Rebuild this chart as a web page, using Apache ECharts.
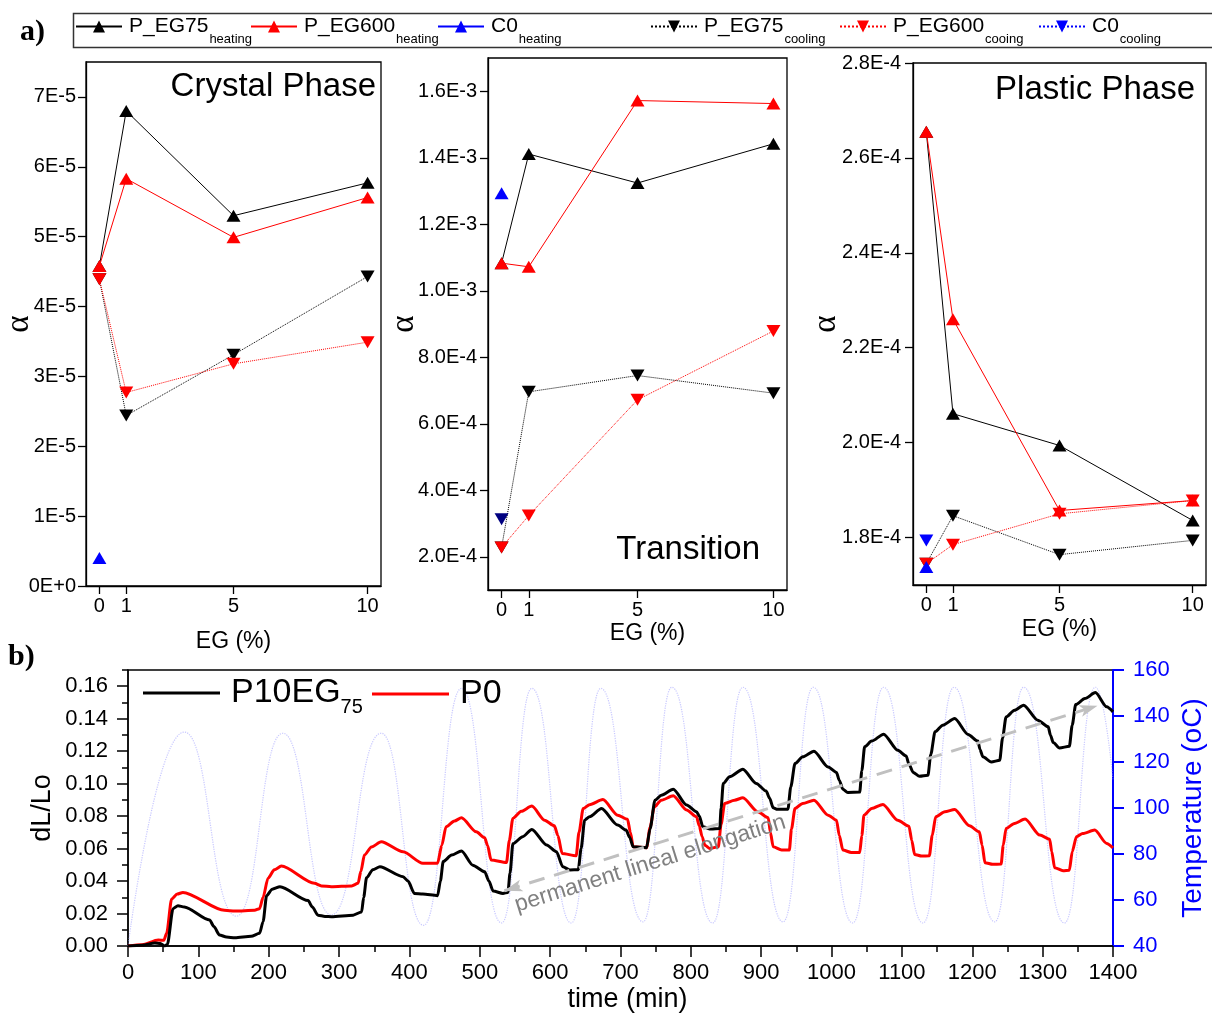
<!DOCTYPE html>
<html>
<head>
<meta charset="utf-8">
<script src="https://cdn.jsdelivr.net/npm/echarts@6/dist/echarts.min.js"></script>
<style>
  html, body { margin: 0; padding: 0; background: #fff; }
  #chart { width: 1212px; height: 1013px; }
</style>
</head>
<body>
<div id="chart"></div>
<script>
// ---------- a) thermal expansion coefficient vs. EG content ----------
const egLevels = [0, 1, 5, 10];

// Crystal phase
const crystalEG75Heat  = [4.58e-5, 6.80e-5, 5.30e-5, 5.77e-5];
const crystalEG600Heat = [4.58e-5, 5.83e-5, 4.99e-5, 5.56e-5];
const crystalC0Heat    = [0.40e-5];
const crystalEG75Cool  = [4.39e-5, 2.44e-5, 3.31e-5, 4.43e-5];
const crystalEG600Cool = [4.39e-5, 2.77e-5, 3.18e-5, 3.49e-5];
const crystalC0Cool    = [];

// Transition
const transEG75Heat  = [1.083e-3, 1.411e-3, 1.324e-3, 1.442e-3];
const transEG600Heat = [1.083e-3, 1.072e-3, 1.572e-3, 1.563e-3];
const transC0Heat    = [1.293e-3];
const transEG75Cool  = [2.28e-4, 6.96e-4, 7.45e-4, 6.92e-4];
const transEG600Cool = [2.28e-4, 3.24e-4, 6.72e-4, 8.79e-4];
const transC0Cool    = [3.13e-4];

// Plastic phase
const plasticEG75Heat  = [2.655e-4, 2.061e-4, 1.994e-4, 1.836e-4];
const plasticEG600Heat = [2.655e-4, 2.260e-4, 1.857e-4, 1.878e-4];
const plasticC0Heat    = [1.738e-4];
const plasticEG75Cool  = [1.745e-4, 1.846e-4, 1.764e-4, 1.794e-4];
const plasticEG600Cool = [1.745e-4, 1.785e-4, 1.850e-4, 1.878e-4];
const plasticC0Cool    = [1.794e-4];

// tick values and their printed labels
const crystalTicks = [0, 1e-5, 2e-5, 3e-5, 4e-5, 5e-5, 6e-5, 7e-5];
const crystalTickLabels = ['0E+0', '1E-5', '2E-5', '3E-5', '4E-5', '5E-5', '6E-5', '7E-5'];
const transTicks = [2e-4, 4e-4, 6e-4, 8e-4, 1.0e-3, 1.2e-3, 1.4e-3, 1.6e-3];
const transTickLabels = ['2.0E-4', '4.0E-4', '6.0E-4', '8.0E-4', '1.0E-3', '1.2E-3', '1.4E-3', '1.6E-3'];
const plasticTicks = [1.8e-4, 2.0e-4, 2.2e-4, 2.4e-4, 2.6e-4, 2.8e-4];
const plasticTickLabels = ['1.8E-4', '2.0E-4', '2.2E-4', '2.4E-4', '2.6E-4', '2.8E-4'];
const egTicks = [0, 1, 5, 10];

const seriesNames = ['P_EG75|heating', 'P_EG600|heating', 'C0|heating',
                     'P_EG75|cooling', 'P_EG600|cooing', 'C0|cooling'];

// ---------- b) dilatometry under thermal cycling ----------
// [time (min), dL/Lo]
const p10eg75Curve = [
  [0,0],[20,0.0005],[38,0.0018],[46,0.0015],[52,0.0],[56,0.001],[64,0.023],[71,0.0248],[80,0.024],
  [116,0.016],[122,0.012],[130,0.0068],[140,0.0055],[152,0.0051],[175,0.006],[187,0.0078],[192,0.015],
  [197,0.031],[205,0.035],[216,0.0365],[256,0.028],[262,0.024],[270,0.019],[280,0.0182],[289,0.018],
  [320,0.019],[332,0.021],[335,0.030],[339,0.042],[348,0.047],[358,0.0488],[391,0.0427],[398,0.040],
  [407,0.0324],[419,0.032],[440,0.031],[444,0.040],[448,0.052],[460,0.056],[474,0.0585],[490,0.0498],
  [507,0.0457],[513,0.040],[519,0.0338],[533,0.0324],[540,0.033],[543,0.045],[547,0.063],[561,0.0673],
  [574,0.0718],[595,0.0622],[609,0.058],[618,0.0488],[628,0.0468],[640,0.047],[644,0.060],[649,0.0775],
  [656,0.0796],[673,0.0847],[696,0.0745],[708,0.0714],[713,0.067],[718,0.0611],[737,0.0605],[742,0.072],
  [749,0.0898],[758,0.0929],[775,0.0966],[794,0.0868],[808,0.0827],[812,0.080],[817,0.0734],[829,0.072],
  [841,0.0723],[843,0.085],[846,0.1001],[855,0.1042],[874,0.1089],[893,0.1001],[907,0.0954],[912,0.091],
  [917,0.0851],[923,0.0842],[938,0.0843],[942,0.098],[948,0.1124],[959,0.1165],[975,0.120],[995,0.1103],
  [1007,0.1069],[1011,0.102],[1016,0.0966],[1023,0.0946],[1040,0.0948],[1043,0.108],[1047,0.1227],
  [1057,0.1262],[1074,0.1305],[1094,0.1206],[1106,0.1171],[1110,0.112],[1116,0.1069],[1125,0.1046],
  [1137,0.1052],[1141,0.118],[1147,0.1319],[1158,0.136],[1175,0.1401],[1194,0.1303],[1208,0.1262],
  [1211,0.121],[1215,0.1165],[1227,0.1134],[1239,0.1144],[1243,0.128],[1248,0.1411],[1260,0.1452],
  [1273,0.1483],[1293,0.1391],[1308,0.135],[1311,0.130],[1315,0.1253],[1324,0.122],[1338,0.123],
  [1342,0.136],[1347,0.1487],[1360,0.1524],[1375,0.1561],[1391,0.1473],[1400,0.1442]
];
const p0Curve = [
  [0,0],[20,0.0008],[43,0.0037],[51,0.0035],[55,0.008],[62,0.029],[70,0.032],[78,0.033],[137,0.022],
  [152,0.0215],[180,0.022],[187,0.023],[192,0.030],[199,0.0417],[208,0.047],[218,0.0492],[265,0.0386],
  [275,0.037],[289,0.0365],[318,0.037],[327,0.0386],[331,0.046],[336,0.056],[346,0.061],[360,0.0642],
  [391,0.058],[419,0.0509],[440,0.0509],[446,0.062],[452,0.0734],[464,0.077],[474,0.079],[495,0.0703],
  [507,0.0667],[511,0.062],[516,0.053],[538,0.0515],[542,0.065],[547,0.0786],[559,0.083],[574,0.0862],
  [592,0.0775],[606,0.074],[611,0.068],[617,0.057],[637,0.0556],[641,0.070],[647,0.0847],[656,0.087],
  [675,0.0902],[696,0.0806],[710,0.078],[714,0.070],[718,0.0611],[737,0.0605],[742,0.073],[748,0.0857],
  [758,0.0898],[775,0.0925],[794,0.0837],[808,0.0796],[812,0.074],[816,0.0673],[820,0.062],[827,0.0601],
  [839,0.0611],[843,0.075],[848,0.0878],[862,0.0898],[874,0.0913],[895,0.0827],[910,0.079],[913,0.070],
  [917,0.0611],[929,0.0591],[940,0.0591],[943,0.072],[948,0.0847],[959,0.0878],[975,0.0898],[995,0.0806],
  [1007,0.0775],[1011,0.068],[1016,0.0591],[1028,0.0576],[1040,0.0576],[1043,0.068],[1046,0.0806],
  [1057,0.0847],[1073,0.0872],[1094,0.0775],[1110,0.0738],[1114,0.065],[1118,0.0564],[1128,0.0554],
  [1139,0.0556],[1143,0.068],[1148,0.0796],[1161,0.0827],[1175,0.0841],[1196,0.074],[1210,0.0703],
  [1214,0.062],[1218,0.0513],[1229,0.0503],[1241,0.0505],[1244,0.062],[1248,0.0724],[1260,0.0755],
  [1275,0.0782],[1296,0.0683],[1310,0.0658],[1313,0.058],[1317,0.0482],[1329,0.0464],[1338,0.0467],
  [1342,0.058],[1348,0.0673],[1357,0.0693],[1374,0.0714],[1391,0.0632],[1400,0.0605]
];
// [time (min), temperature (oC)] – turning points of the programmed cycle
const tempCurve = [
  [0,40],[80,133],[154,53],[220,132.5],[289,53.5],[360,132.5],[420,49],[474,152],[531,50],[574,152],
  [630,50],[672,152],[732,50.5],[773,152.5],[831,50],[874,152.5],[931,50.5],[974,152.5],[1030,50],
  [1074,152.5],[1130,50],[1174,152.5],[1232,50.5],[1273,152.5],[1331,50],[1375,152.5],[1400,112]
];
const trendStart = [535, 0.034];
const trendEnd = [1378, 0.148];
const trendLabel = 'permanent lineal elongation';
const dlTicks = [0, 0.02, 0.04, 0.06, 0.08, 0.10, 0.12, 0.14, 0.16];

// ---------- helpers ----------
const SANS = '"Liberation Sans", Arial, sans-serif';
const SERIF = '"Liberation Serif", "Times New Roman", serif';

function pairs(values) { return values.map((v, i) => [egLevels[i], v]); }
function nearestLabel(ticks, labels) {
  return function (v) {
    let best = 0;
    for (let i = 1; i < ticks.length; i++) {
      if (Math.abs(ticks[i] - v) < Math.abs(ticks[best] - v)) best = i;
    }
    return labels[best];
  };
}
function subFormatter(name) {
  const parts = name.split('|');
  return parts.length > 1 ? '{a|' + parts[0] + '}{b|' + parts[1] + '}' : '{a|' + parts[0] + '}';
}

const look = {
  'P_EG75|heating':  { color: '#000000', line: 'solid',  rot: 0,   z: 3 },
  'P_EG600|heating': { color: '#ff0000', line: 'solid',  rot: 0,   z: 4 },
  'C0|heating':      { color: '#0000ff', line: 'solid',  rot: 0,   z: 5 },
  'P_EG75|cooling':  { color: '#000000', line: 'dotted', rot: 180, z: 3 },
  'P_EG600|cooing':  { color: '#ff0000', line: 'dotted', rot: 180, z: 4 },
  'C0|cooling':      { color: '#0000ff', line: 'dotted', rot: 180, z: 5 }
};

function panelSeries(idx, sets, overrides) {
  return seriesNames.map((name, k) => {
    const st = look[name];
    const color = (overrides && overrides[k]) || st.color;
    return {
      name: name, type: 'line', xAxisIndex: idx, yAxisIndex: idx,
      data: pairs(sets[k]),
      symbol: 'triangle', symbolSize: [14, 12], symbolRotate: st.rot,
      lineStyle: { color: color, width: 1, type: st.line },
      itemStyle: { color: color },
      z: st.z, silent: true
    };
  });
}

// panel geometry
const grids = [
  { left: 86,  top: 62,  width: 295, height: 524 },
  { left: 488, top: 58,  width: 299, height: 532 },
  { left: 913, top: 63,  width: 293, height: 522 },
  { left: 128, top: 670, width: 985, height: 276 }
];

const topX = [44, 32, 33].map((gap, i) => ({
  type: 'value', gridIndex: i, min: -0.5, max: 10.5,
  name: 'EG (%)', nameLocation: 'middle', nameGap: gap, nameMoveOverlap: false,
  nameTextStyle: { fontFamily: SANS, fontSize: 23, color: '#000', padding: i === 1 ? [0, 0, 0, 20] : 0 },
  axisLine: { show: true, onZero: false, lineStyle: { color: '#000', width: 1.3 } },
  axisTick: { show: true, inside: false, length: 8, customValues: egTicks, lineStyle: { color: '#000', width: 1.3 } },
  axisLabel: { customValues: egTicks, fontFamily: SANS, fontSize: 20, color: '#000', margin: 10 },
  splitLine: { show: false }
}));

const topY = [
  { min: 0, max: 7.5e-5, ticks: crystalTicks, labels: crystalTickLabels, gap: 50, margin: 10 },
  { min: 1e-4, max: 1.7e-3, ticks: transTicks, labels: transTickLabels, gap: 67, margin: 11 },
  { min: 1.7e-4, max: 2.8e-4, ticks: plasticTicks, labels: plasticTickLabels, gap: 70, margin: 12 }
].map((a, i) => ({
  type: 'value', gridIndex: i, min: a.min, max: a.max,
  name: 'α', nameLocation: 'middle', nameGap: a.gap, nameMoveOverlap: false,
  nameTextStyle: { fontFamily: SERIF, fontSize: 33, color: '#000' },
  axisLine: { show: true, onZero: false, lineStyle: { color: '#000', width: 1.3 } },
  axisTick: { show: true, inside: false, length: 8, customValues: a.ticks, lineStyle: { color: '#000', width: 1.3 } },
  axisLabel: { customValues: a.ticks, formatter: nearestLabel(a.ticks, a.labels),
               fontFamily: SANS, fontSize: 20, color: '#000', margin: a.margin },
  splitLine: { show: false }
}));

const legendX = [75, 250, 437, 650, 839, 1038];
const topLegends = seriesNames.map((name, i) => ({
  data: [name], left: legendX[i], top: 16, padding: 0,
  itemWidth: 46, itemHeight: 15, selectedMode: false,
  formatter: subFormatter,
  textStyle: {
    color: '#000',
    rich: {
      a: { fontFamily: SANS, fontSize: 21, color: '#000', verticalAlign: 'middle', padding: [0, 0, 0, 2] },
      b: { fontFamily: SANS, fontSize: 13, color: '#000', verticalAlign: 'top', padding: [25.6, 0, 0, 1] }
    }
  }
}));

const bottomLegendRich = {
  a: { fontFamily: SANS, fontSize: 34, color: '#000', verticalAlign: 'middle', padding: [0, 0, 0, 6] },
  b: { fontFamily: SANS, fontSize: 20, color: '#000', verticalAlign: 'top', padding: [28.6, 0, 0, 0] }
};
const bottomLegends = [
  { data: ['P10EG|75'], left: 143, top: 676, padding: 0, icon: 'rect', itemWidth: 77, itemHeight: 3,
    selectedMode: false, formatter: subFormatter, textStyle: { rich: bottomLegendRich } },
  { data: ['P0'], left: 372, top: 677, padding: 0, icon: 'rect', itemWidth: 77, itemHeight: 3,
    selectedMode: false, formatter: subFormatter, textStyle: { rich: bottomLegendRich } }
];

const option = {
  animation: false,
  backgroundColor: '#fff',
  grid: grids.map(g => Object.assign({ show: true, borderColor: '#000', borderWidth: 1.3,
                                       backgroundColor: 'transparent', containLabel: false,
                                       outerBoundsMode: 'none' }, g)),
  legend: topLegends.concat(bottomLegends),
  xAxis: topX.concat([{
    type: 'value', gridIndex: 3, min: 0, max: 1400, interval: 100,
    name: 'time (min)', nameLocation: 'middle', nameGap: 40, nameMoveOverlap: false,
    nameTextStyle: { fontFamily: SANS, fontSize: 27, color: '#000', padding: [0, 0, 0, 14] },
    axisLine: { show: true, onZero: false, lineStyle: { color: '#000', width: 1.5 } },
    axisTick: { show: true, inside: false, length: 11, lineStyle: { color: '#000', width: 1.5 } },
    minorTick: { show: true, splitNumber: 2, length: 6, lineStyle: { color: '#000', width: 1.5 } },
    axisLabel: { formatter: v => String(v), fontFamily: SANS, fontSize: 22, color: '#000', margin: 16 },
    splitLine: { show: false }, minorSplitLine: { show: false }
  }]),
  yAxis: topY.concat([
    { // dL/Lo, major ticks + labels
      type: 'value', gridIndex: 3, position: 'left', min: 0, max: 0.17,
      name: 'dL/Lo', nameLocation: 'middle', nameGap: 72, nameMoveOverlap: false,
      nameTextStyle: { fontFamily: SANS, fontSize: 27, color: '#000' },
      axisLine: { show: true, onZero: false, lineStyle: { color: '#000', width: 1.5 } },
      axisTick: { show: true, inside: false, length: 11, customValues: dlTicks, lineStyle: { color: '#000', width: 1.5 } },
      axisLabel: { customValues: dlTicks, formatter: v => v.toFixed(2),
                   fontFamily: SANS, fontSize: 22, color: '#000', margin: 20 },
      splitLine: { show: false }
    },
    { // dL/Lo, minor ticks
      type: 'value', gridIndex: 3, position: 'left', min: 0, max: 0.17, interval: 0.01,
      axisLine: { show: false }, axisLabel: { show: false }, splitLine: { show: false },
      axisTick: { show: true, inside: false, length: 6, lineStyle: { color: '#000', width: 1.5 } }
    },
    { // temperature
      type: 'value', gridIndex: 3, position: 'right', min: 40, max: 160, interval: 20,
      name: 'Temperature (oC)', nameLocation: 'middle', nameGap: 66, nameMoveOverlap: false,
      nameTextStyle: { fontFamily: SANS, fontSize: 28, color: '#0000ff' },
      axisLine: { show: true, onZero: false, lineStyle: { color: '#0000ff', width: 2 } },
      axisTick: { show: true, inside: false, length: 11, lineStyle: { color: '#0000ff', width: 2 } },
      axisLabel: { fontFamily: SANS, fontSize: 22, color: '#0000ff', margin: 20 },
      splitLine: { show: false }
    }
  ]),
  series: [].concat(
    panelSeries(0, [crystalEG75Heat, crystalEG600Heat, crystalC0Heat, crystalEG75Cool, crystalEG600Cool, crystalC0Cool]),
    panelSeries(1, [transEG75Heat, transEG600Heat, transC0Heat, transEG75Cool, transEG600Cool, transC0Cool],
                { 5: '#000080' }),
    panelSeries(2, [plasticEG75Heat, plasticEG600Heat, plasticC0Heat, plasticEG75Cool, plasticEG600Cool, plasticC0Cool]),
    [
      {
        name: 'Temperature', type: 'line', xAxisIndex: 3, yAxisIndex: 5,
        data: tempCurve, showSymbol: false, symbol: 'none', smooth: 0.5, smoothMonotone: 'x',
        lineStyle: { color: '#9a9aff', width: 1.2, type: 'dotted', opacity: 0.55 }, z: 1, silent: true
      },
      {
        name: 'P0', type: 'line', xAxisIndex: 3, yAxisIndex: 3,
        data: p0Curve, showSymbol: false, symbol: 'none', smooth: 0.25, smoothMonotone: 'x',
        lineStyle: { color: '#ff0000', width: 3 }, itemStyle: { color: '#ff0000' }, z: 3, silent: true
      },
      {
        name: 'P10EG|75', type: 'line', xAxisIndex: 3, yAxisIndex: 3,
        data: p10eg75Curve, showSymbol: false, symbol: 'none', smooth: 0.25, smoothMonotone: 'x',
        lineStyle: { color: '#000000', width: 3 }, itemStyle: { color: '#000000' }, z: 4, silent: true,
        markLine: {
          silent: true, animation: false, symbol: ['arrow', 'arrow'], symbolSize: [9, 18],
          lineStyle: { color: '#c0c0c0', width: 3, type: [16, 10] },
          label: { show: true, position: 'insideStartBottom', formatter: trendLabel,
                   color: '#808080', fontFamily: SANS, fontSize: 23, distance: 6 },
          emphasis: { disabled: true },
          data: [[{ coord: trendStart }, { coord: trendEnd }]]
        }
      }
    ]
  ),
  graphic: [
    { type: 'rect', shape: { x: 73.5, y: 13.5, width: 1200, height: 34 },
      style: { fill: 'none', stroke: '#333', lineWidth: 1.5 }, silent: true },
    { type: 'text', x: 20, y: 32, style: { text: 'a)', font: 'bold 30px ' + SERIF, fill: '#000', verticalAlign: 'middle' } },
    { type: 'text', x: 8, y: 657, style: { text: 'b)', font: 'bold 30px ' + SERIF, fill: '#000', verticalAlign: 'middle' } },
    { type: 'text', x: 376, y: 87, style: { text: 'Crystal Phase', font: '33px ' + SANS, fill: '#000', align: 'right', verticalAlign: 'middle' } },
    { type: 'text', x: 760, y: 550, style: { text: 'Transition', font: '33px ' + SANS, fill: '#000', align: 'right', verticalAlign: 'middle' } },
    { type: 'text', x: 1195, y: 90, style: { text: 'Plastic Phase', font: '33px ' + SANS, fill: '#000', align: 'right', verticalAlign: 'middle' } }
  ]
};

const chart = echarts.init(document.getElementById('chart'), null, { renderer: 'canvas' });
chart.setOption(option);
</script>
</body>
</html>
